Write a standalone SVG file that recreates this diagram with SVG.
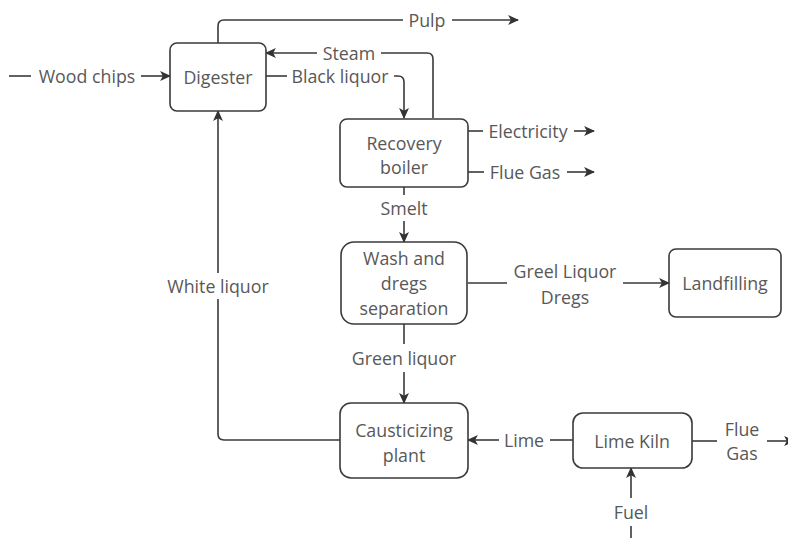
<svg xmlns="http://www.w3.org/2000/svg" width="788" height="538" viewBox="0 0 788 538">
<defs>
<marker id="arr" viewBox="0 0 10 10" refX="9" refY="5" markerWidth="11" markerHeight="11" markerUnits="userSpaceOnUse" orient="auto">
<path d="M0,0.5 L10,5 L0,9.5 L2.5,5 Z" fill="#333"/>
</marker>
<style>
.box{fill:#fff;stroke:#3a3a3a;stroke-width:1.6}
.t{font-family:"Open Sans","Liberation Sans",sans-serif;font-size:17.8px;fill:#585858;text-anchor:middle;dominant-baseline:central}
.c{fill:none;stroke:#3a3a3a;stroke-width:1.6}
.a{marker-end:url(#arr)}
</style>
</defs>
<rect width="788" height="538" fill="#fff"/>
<g id="connectors">
<line class="c" x1="9" y1="76" x2="31" y2="76"/>
<line class="c a" x1="141" y1="76" x2="170" y2="76"/>
<path class="c" d="M218 43 V26 Q218 20 224 20 H403"/>
<line class="c a" x1="452" y1="20" x2="518" y2="20"/>
<path class="c" d="M433 118 V59 Q433 53 427 53 H381"/>
<line class="c a" x1="317" y1="53" x2="266" y2="53"/>
<line class="c" x1="266" y1="76" x2="287" y2="76"/>
<path class="c a" d="M394 76 H398 Q404 76 404 82 V118"/>
<line class="c" x1="468" y1="131" x2="483" y2="131"/>
<line class="c a" x1="574" y1="131" x2="594" y2="131"/>
<line class="c" x1="468" y1="172" x2="484" y2="172"/>
<line class="c a" x1="567" y1="172" x2="594" y2="172"/>
<line class="c" x1="404" y1="187" x2="404" y2="195"/>
<line class="c a" x1="404" y1="221" x2="404" y2="242"/>
<line class="c" x1="468" y1="283" x2="507" y2="283"/>
<line class="c a" x1="623" y1="283" x2="669" y2="283"/>
<line class="c" x1="404" y1="324" x2="404" y2="344"/>
<line class="c a" x1="404" y1="372" x2="404" y2="403"/>
<path class="c" d="M340 440 H224 Q218 440 218 434 V299"/>
<line class="c a" x1="218" y1="273" x2="218" y2="111"/>
<line class="c" x1="573" y1="440" x2="550" y2="440"/>
<line class="c a" x1="499" y1="440" x2="468" y2="440"/>
<line class="c" x1="692" y1="441" x2="717" y2="441"/>
<line class="c a" x1="767" y1="441" x2="794" y2="441"/>
<line class="c" x1="631" y1="538" x2="631" y2="526"/>
<line class="c a" x1="631" y1="498" x2="631" y2="468"/>
<text class="t" x="87" y="76">Wood chips</text>
<text class="t" x="427" y="20">Pulp</text>
<text class="t" x="349" y="53">Steam</text>
<text class="t" x="340" y="76">Black liquor</text>
<text class="t" x="528" y="131">Electricity</text>
<text class="t" x="525" y="172">Flue Gas</text>
<text class="t" x="404" y="208">Smelt</text>
<text class="t" x="565" y="271">Greel Liquor</text>
<text class="t" x="565" y="297">Dregs</text>
<text class="t" x="404" y="358">Green liquor</text>
<text class="t" x="218" y="286">White liquor</text>
<text class="t" x="524" y="440">Lime</text>
<text class="t" x="742" y="429">Flue</text>
<text class="t" x="742" y="453">Gas</text>
<text class="t" x="631" y="512">Fuel</text>
</g>
<g id="digester">
<rect class="box" x="170" y="43" width="96" height="68" rx="7"/>
<text class="t" x="218" y="77">Digester</text>
</g>
<g id="recovery-boiler">
<rect class="box" x="340" y="119" width="128" height="68" rx="7"/>
<text class="t" x="404" y="143">Recovery</text>
<text class="t" x="404" y="167">boiler</text>
</g>
<g id="wash">
<rect class="box" x="341" y="242" width="126" height="82" rx="13"/>
<text class="t" x="404" y="258">Wash and</text>
<text class="t" x="404" y="283">dregs</text>
<text class="t" x="404" y="308">separation</text>
</g>
<g id="landfilling">
<rect class="box" x="669" y="249" width="112" height="68" rx="7"/>
<text class="t" x="725" y="283">Landfilling</text>
</g>
<g id="causticizing">
<rect class="box" x="340" y="403" width="128" height="75" rx="11"/>
<text class="t" x="404" y="430">Causticizing</text>
<text class="t" x="404" y="455">plant</text>
</g>
<g id="lime-kiln">
<rect class="box" x="573" y="413" width="119" height="55" rx="10"/>
<text class="t" x="632" y="441">Lime Kiln</text>
</g>
</svg>
